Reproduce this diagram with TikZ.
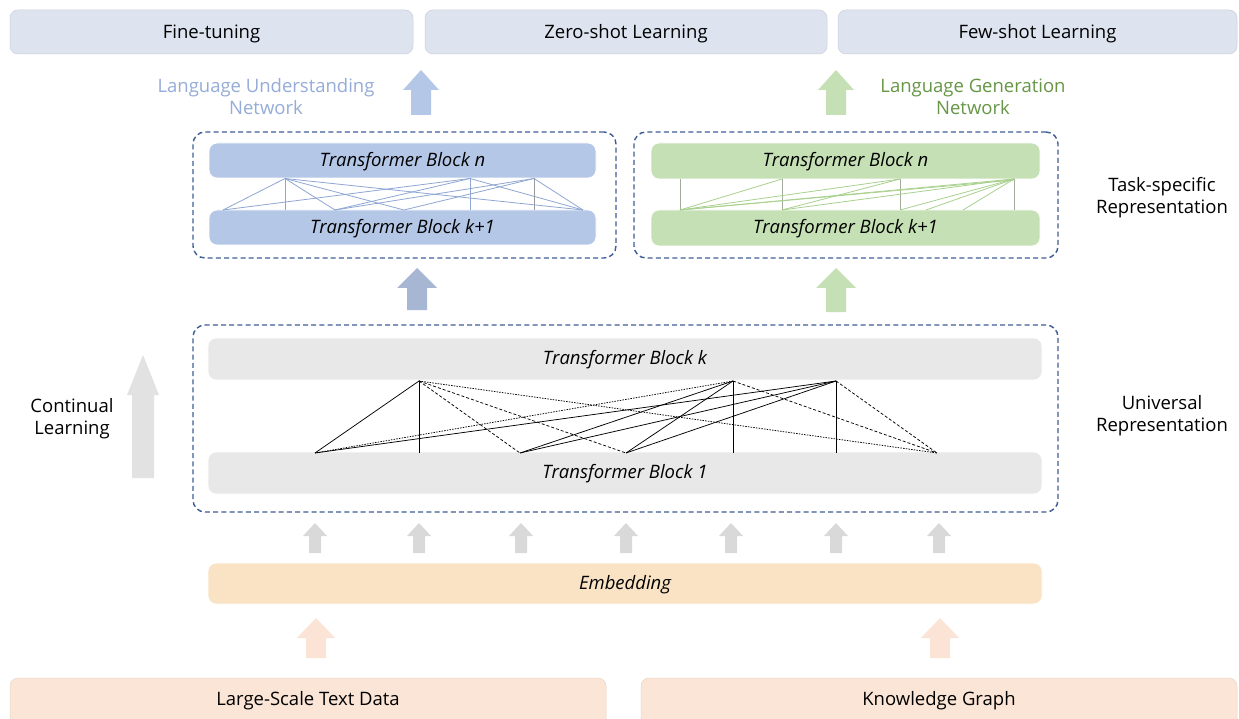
\documentclass[tikz,border=0pt]{standalone}
\usepackage{fontspec}
\setmainfont{Open Sans}
\definecolor{topfill}{HTML}{DDE3EF}
\definecolor{topdraw}{HTML}{C9CFDB}
\definecolor{bluefill}{HTML}{B4C7E7}
\definecolor{greenfill}{HTML}{C5E0B4}
\definecolor{grayfill}{HTML}{E8E8E8}
\definecolor{embfill}{HTML}{F9E3C4}
\definecolor{peachfill}{HTML}{FBE5D6}
\definecolor{dashblue}{HTML}{3F5D96}
\definecolor{lunet}{HTML}{95ACD8}
\definecolor{lgnet}{HTML}{679646}
\definecolor{bluearrow}{HTML}{B4C7E7}
\definecolor{bluemid}{HTML}{A6B6D3}
\definecolor{greenarrow}{HTML}{C5E0B4}
\definecolor{smallgray}{HTML}{D9D9D9}
\definecolor{contgray}{HTML}{E2E2E2}
\definecolor{peacharrow}{HTML}{FBE3D6}
\definecolor{blueline}{HTML}{8FA6D4}
\definecolor{greenline}{HTML}{A9D18E}
\definecolor{gvert}{HTML}{A3AB9C}
\newcommand\uparr[7]{%
  \fill[#7] (#1,#2) -- (#1+#4/2,#2+#6) -- (#1+#5/2,#2+#6) -- (#1+#5/2,#3)
    -- (#1-#5/2,#3) -- (#1-#5/2,#2+#6) -- (#1-#4/2,#2+#6) -- cycle;}
\begin{document}
\begin{tikzpicture}[x=1pt,y=-1pt,
  base/.style={rectangle, rounded corners=8pt, inner sep=0pt, outer sep=0pt, font=\fontsize{18.5}{21}\selectfont},
  topbox/.style={base, fill=topfill, draw=topdraw, line width=0.5pt},
  blk/.style={base, draw=white, line width=0.8pt, font=\fontsize{18.5}{21}\selectfont\itshape},
  dbox/.style={rectangle, rounded corners=12pt, draw=dashblue, line width=1.4pt, dash pattern=on 5pt off 3.2pt, inner sep=0pt},
  lbl/.style={align=center, font=\fontsize{18.5}{22}\selectfont},
  txt/.style={font=\fontsize{18.5}{21}\selectfont},
  sl/.style={black, line width=0.75pt},
  dl/.style={black, line width=0.75pt, dash pattern=on 3pt off 2pt},
  ol/.style={black, line width=0.75pt, dash pattern=on 1.5pt off 1.2pt},
  bl/.style={blueline, line width=0.8pt},
  gl/.style={greenline, line width=0.8pt},
  gv/.style={gvert, line width=1pt}
]
\useasboundingbox[fill=white] (0,0) rectangle (1239,719);

% top task boxes
\node[topbox, minimum width=403pt, minimum height=44pt] (ft) at (211.5,32) {};
\node[txt] at (ft.center) [yshift=-1.5pt] {Fine-tuning};
\node[topbox, minimum width=402pt, minimum height=44pt] (zs) at (626,32) {};
\node[txt] at (zs.center) [yshift=-1.5pt] {Zero-shot Learning};
\node[topbox, minimum width=399pt, minimum height=44pt] (fs) at (1037.5,32) {};
\node[txt] at (fs.center) [yshift=-1.5pt] {Few-shot Learning};

% network labels
\node[lbl, text=lunet] (lun) at (266,97) {Language Understanding\\Network};
\node[lbl, text=lgnet] (lgn) at (973,97) {Language Generation\\Network};
\uparr{421}{70}{115}{36}{20}{20}{bluearrow}
\uparr{836}{70}{115}{36}{20}{20}{greenarrow}

% task-specific dashed boxes
\node[dbox, minimum width=423pt, minimum height=126pt] (lbox) at (404.5,195) {};
\node[dbox, minimum width=424pt, minimum height=126pt] (rbox) at (846,195) {};

\node[blk, fill=bluefill, minimum width=387pt, minimum height=35pt] (bn) at (402.5,160.5) {};
\node[blk, fill=bluefill, minimum width=387pt, minimum height=35pt] (bk1) at (402.5,227.5) {};
\node[blk, fill=greenfill, minimum width=389pt, minimum height=36pt] (gn) at (845.5,161) {};
\node[blk, fill=greenfill, minimum width=389pt, minimum height=36pt] (gk1) at (845.5,228) {};
\node[txt, font=\fontsize{18.5}{21}\selectfont\itshape] at (bn.center) [yshift=-1pt] {Transformer Block n};
\node[txt, font=\fontsize{18.5}{21}\selectfont\itshape] at (bk1.center) [yshift=-1pt] {Transformer Block k+1};
\node[txt, font=\fontsize{18.5}{21}\selectfont\itshape] at (gn.center) [yshift=-1pt] {Transformer Block n};
\node[txt, font=\fontsize{18.5}{21}\selectfont\itshape] at (gk1.center) [yshift=-1pt] {Transformer Block k+1};

% blue connections
\foreach \n/\x in {1/285,2/470,3/534} \coordinate (bt\n) at (\x,178.5);
\foreach \n/\x in {1/223,2/285,3/335,4/404,5/470,6/534,7/583} \coordinate (bb\n) at (\x,210);
\draw[bl] (bt1) -- (bb1); \draw[bl] (bt1) -- (bb2); \draw[bl] (bt1) -- (bb3);
\draw[bl] (bt1) -- (bb4); \draw[bl] (bt1) -- (bb7);
\draw[bl] (bt2) -- (bb1); \draw[bl] (bt2) -- (bb3); \draw[bl] (bt2) -- (bb5); \draw[bl] (bt2) -- (bb7);
\draw[bl] (bt3) -- (bb3); \draw[bl] (bt3) -- (bb4); \draw[bl] (bt3) -- (bb7);
\draw[gv, gray!80] (bt3) -- (bb6);

% green connections
\foreach \n/\x in {1/680,2/782,3/900,4/1014} \coordinate (gt\n) at (\x,179);
\foreach \n/\x in {1/680,2/782,3/900,4/926,5/963,6/1014} \coordinate (gb\n) at (\x,210);
\draw[gv] (gt1) -- (gb1); \draw[gv] (gt2) -- (gb2); \draw[gv] (gt3) -- (gb3); \draw[gv] (gt4) -- (gb6);
\draw[gl] (gb1) -- (gt2); \draw[gl] (gb1) -- (gt3); \draw[gl] (gb1) -- (gt4);
\draw[gl] (gb1) -- ([yshift=-1pt]gt4);
\draw[gl] (gb2) -- (gt3); \draw[gl] (gb2) -- (gt4); \draw[gl] (gb3) -- (gt4);
\draw[gl] (gb4) -- (gt4); \draw[gl] (gb5) -- (gt4);

\node[lbl] (tsr) at (1162,197.5) {Task-specific\\Representation};

% middle arrows
\uparr{417}{268}{310}{40}{20}{20}{bluemid}
\uparr{836}{268}{312}{40}{20}{20}{greenarrow}

% universal box
\node[dbox, minimum width=865pt, minimum height=187pt] (ubox) at (625.5,418.5) {};
\node[blk, fill=grayfill, minimum width=834pt, minimum height=42pt] (tk) at (625,359) {};
\node[blk, fill=grayfill, minimum width=834pt, minimum height=42pt] (t1) at (625,473) {};
\node[txt, font=\fontsize{18.5}{21}\selectfont\itshape] at (tk.center) [yshift=-1pt] {Transformer Block k};
\node[txt, font=\fontsize{18.5}{21}\selectfont\itshape] at (t1.center) [yshift=-1pt] {Transformer Block 1};

\foreach \n/\x in {1/419,2/733,3/836} \coordinate (ut\n) at (\x,381);
\foreach \n/\x in {1/315,2/419,3/520,4/626,5/733,6/836,7/937} \coordinate (ub\n) at (\x,453);
\draw[sl] (ut1) -- (ub1); \draw[sl] (ut1) -- (ub2);
\draw[dl] (ut1) -- (ub3); \draw[dl] (ut1) -- (ub4); \draw[ol] (ut1) -- (ub7);
\draw[ol] (ut2) -- (ub1); \draw[sl] (ut2) -- (ub3); \draw[sl] (ut2) -- (ub4);
\draw[sl] (ut2) -- (ub5); \draw[dl] (ut2) -- (ub7);
\draw[sl] (ut3) -- (ub1); \draw[sl] (ut3) -- (ub3); \draw[sl] (ut3) -- (ub4);
\draw[sl] (ut3) -- (ub6); \draw[dl] (ut3) -- (ub7);

\node[lbl] (ur) at (1162,415.5) {Universal\\Representation};

% continual learning
\uparr{143}{355}{478}{32}{22}{40}{contgray}
\node[lbl] (cl) at (72,419) {Continual\\Learning};

% small arrows
\foreach \x in {315,419,521,626,731,836,939} {\uparr{\x}{523}{553}{24}{12}{13}{smallgray}}

% embedding
\node[blk, fill=embfill, minimum width=834pt, minimum height=41pt] (emb) at (625,583.5) {};
\node[txt, font=\fontsize{18.5}{21}\selectfont\itshape] at (emb.center) [yshift=-1pt] {Embedding};

\uparr{316}{618}{658}{38}{20}{20}{peacharrow}
\uparr{940}{618}{658}{38}{20}{20}{peacharrow}

% data sources
\node[base, fill=peachfill, draw=peachfill!85!gray, line width=0.5pt, minimum width=596pt, minimum height=50pt, anchor=north] (ltd) at (308,678) {};
\node[txt] (ltdt) at (308,701) {Large-Scale Text Data};
\node[base, fill=peachfill, draw=peachfill!85!gray, line width=0.5pt, minimum width=596pt, minimum height=50pt, anchor=north] (kg) at (939,678) {};
\node[txt] (kgt) at (939,701) {Knowledge Graph};
\end{tikzpicture}
\end{document}
